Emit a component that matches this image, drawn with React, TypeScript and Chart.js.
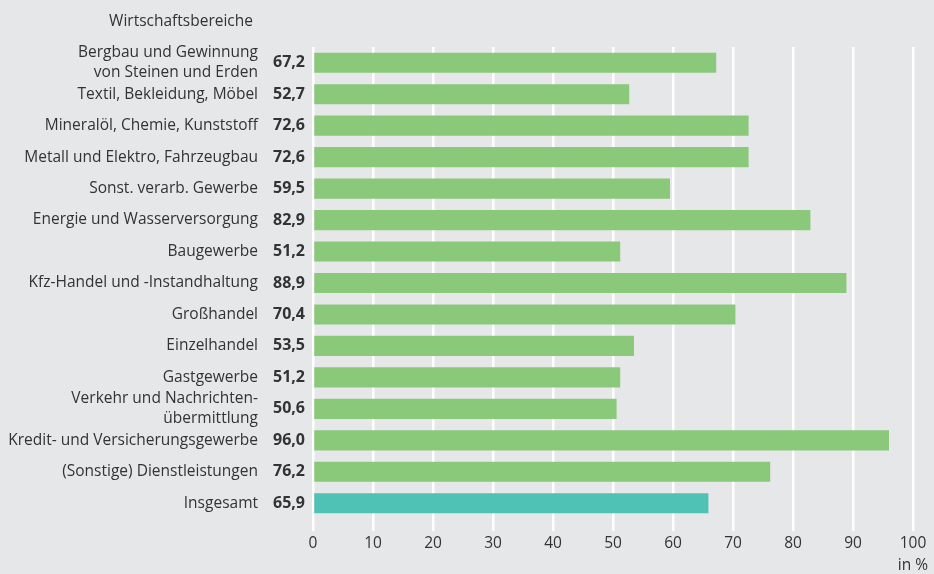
import React, { useEffect, useRef } from "react";
import { Chart, registerables } from "chart.js";

Chart.register(...registerables);

const categories: (string | string[])[] = [
  ["Bergbau und Gewinnung", "von Steinen und Erden"],
  "Textil, Bekleidung, Möbel",
  "Mineralöl, Chemie, Kunststoff",
  "Metall und Elektro, Fahrzeugbau",
  "Sonst. verarb. Gewerbe",
  "Energie und Wasserversorgung",
  "Baugewerbe",
  "Kfz-Handel und -Instandhaltung",
  "Großhandel",
  "Einzelhandel",
  "Gastgewerbe",
  ["Verkehr und Nachrichten-", "übermittlung"],
  "Kredit- und Versicherungsgewerbe",
  "(Sonstige) Dienstleistungen",
  "Insgesamt",
];

const values = [67.2, 52.7, 72.6, 72.6, 59.5, 82.9, 51.2, 88.9, 70.4, 53.5, 51.2, 50.6, 96.0, 76.2, 65.9];

const axisTitle = "Wirtschaftsbereiche";
const unitLabel = "in %";

const GREEN = "#8ac97a";
const TEAL = "#50c1b5";
const BG = "#e6e7e9";
const TEXT = "#333333";
const FONT = "'Open Sans', sans-serif";

export default function App() {
  const ref = useRef<HTMLCanvasElement>(null);

  useEffect(() => {
    document.body.style.margin = "0";
    document.body.style.background = BG;
    const canvas = ref.current!;
    const labelPlugin = {
      id: "valueLabels",
      afterDatasetsDraw(chart: any) {
        const { ctx, chartArea, scales } = chart;
        const y = scales.y;
        ctx.save();
        ctx.fillStyle = TEXT;
        ctx.textAlign = "right";
        ctx.textBaseline = "middle";
        ctx.font = `bold 16px ${FONT}`;
        values.forEach((v, i) => {
          ctx.fillText(v.toFixed(1).replace(".", ","), chartArea.left - 8, y.getPixelForValue(i));
        });
        ctx.font = `15.5px ${FONT}`;
        ctx.fillText(axisTitle, 253, 22);
        ctx.fillText(unitLabel, 928, 566);
        ctx.restore();
      },
    };
    const chart = new Chart(canvas, {
      type: "bar",
      data: {
        labels: categories,
        datasets: [
          {
            data: values,
            backgroundColor: values.map((_, i) => (i === values.length - 1 ? TEAL : GREEN)),
            barPercentage: 0.64,
            categoryPercentage: 1,
          },
        ],
      },
      options: {
        indexAxis: "y",
        animation: false,
        responsive: false,
        maintainAspectRatio: false,
        layout: { padding: { top: 47, right: 21, left: 0, bottom: 0 } },
        plugins: { legend: { display: false }, tooltip: { enabled: false } },
        scales: {
          x: {
            min: 0,
            max: 100,
            ticks: { stepSize: 10, color: TEXT, font: { family: FONT, size: 15.5 }, padding: 3 },
            grid: { color: "#ffffff", lineWidth: 2.5, tickLength: 12, drawTicks: true },
            border: { display: false },
            afterFit(scale: any) {
              scale.height = 55;
              scale.paddingLeft = 0;
              scale.paddingRight = 0;
            },
          },
          y: {
            ticks: {
              color: TEXT,
              font: { family: FONT, size: 15.5, lineHeight: 1.28 },
              padding: 55,
              autoSkip: false,
            },
            grid: { display: false, drawTicks: false },
            border: { display: false },
            afterFit(scale: any) {
              scale.width = 313;
              scale.paddingTop = 0;
              scale.paddingBottom = 0;
            },
          },
        },
      },
      plugins: [labelPlugin],
    });
    return () => chart.destroy();
  }, []);

  return (
    <div style={{ width: 934, height: 574, background: BG }}>
      <canvas ref={ref} width={934} height={574} style={{ display: "block" }} />
    </div>
  );
}
